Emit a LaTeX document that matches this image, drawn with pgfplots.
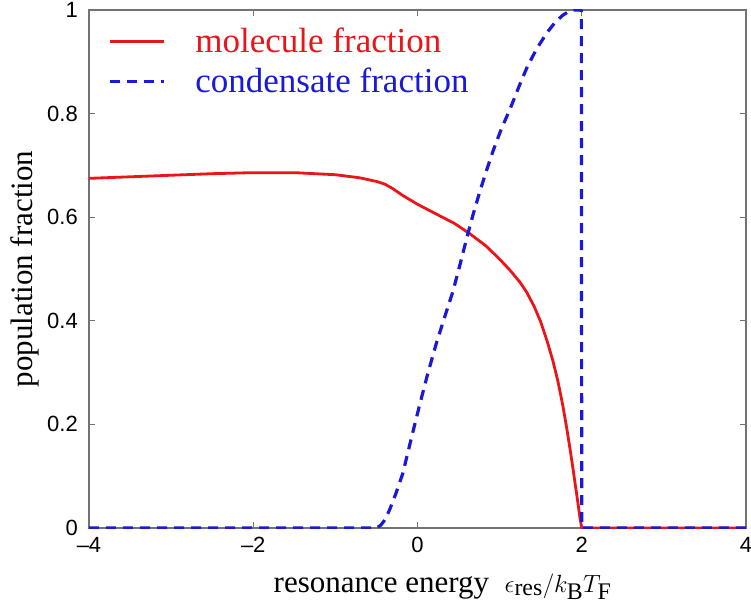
\documentclass[border=0pt]{standalone}
\usepackage{fontspec}
\setmainfont{Liberation Serif}
\newfontfamily\helv{Liberation Sans}
\usepackage{pgfplots}
\pgfplotsset{compat=1.18}
\definecolor{mred}{RGB}{235,20,25}
\definecolor{mblue}{RGB}{25,25,215}
\definecolor{frame}{RGB}{115,115,115}
\begin{document}
\begin{tikzpicture}
\begin{axis}[
  scale only axis,
  width=657pt, height=518pt,
  xmin=-4, xmax=4, ymin=0, ymax=1,
  xtick={-4,-2,0,2,4},
  xticklabels={\textendash4,\textendash2,0,2,4},
  ytick={0,0.2,0.4,0.6,0.8,1},
  yticklabels={0,0.2,0.4,0.6,0.8,1},
  axis line style={frame, line width=1.4pt},
  tick style={frame, line width=1.2pt},
  tick align=inside,
  major tick length=6pt,
  xtick pos=both, ytick pos=both,
  ticklabel style={font=\helv\fontsize{22}{26}\selectfont, inner sep=0pt},
  xticklabel style={anchor=north, yshift=-9pt},
  yticklabel style={anchor=east, xshift=-11pt},
  xlabel={resonance energy\ \ {\fontsize{34}{38}\selectfont$\epsilon_{\mathrm{res}}/k_{\mathrm{B}}T_{\mathrm{F}}$}},
  ylabel={population fraction},
  label style={font=\fontsize{31}{36}\selectfont},
  xlabel style={at={([xshift=25pt,yshift=-64pt]rel axis cs:0.5,0)}, anchor=base},
  ylabel style={at={([xshift=-56pt]rel axis cs:0,0.5)}, anchor=base, rotate=0},
  legend style={at={([xshift=19pt,yshift=-18pt]rel axis cs:0,1)}, anchor=north west,
    draw=none, fill=none, inner sep=0pt, column sep=30pt, row sep=14pt,
    font=\fontsize{35}{40}\selectfont, nodes={inner sep=0pt}},
  legend cell align=left,
  legend image code/.code={\draw[#1] (0pt,0pt) -- (54pt,0pt);},
]
\addplot[mred, line width=2.8pt, line join=round] coordinates {
(-4,0.675) (-3.5,0.678) (-3,0.681) (-2.5,0.684) (-2,0.686) (-1.5,0.686)
(-1,0.682) (-0.7,0.676) (-0.5,0.669) (-0.4,0.664) (-0.3,0.655) (-0.18,0.642)
(0,0.625) (0.23,0.606) (0.45,0.588) (0.63,0.569) (0.83,0.545) (1.0,0.519)
(1.13,0.497) (1.25,0.474) (1.33,0.455) (1.42,0.428) (1.5,0.398) (1.58,0.360)
(1.65,0.322) (1.71,0.283) (1.77,0.236) (1.82,0.190) (1.86,0.150) (1.89,0.118)
(1.92,0.085) (1.95,0.052) (1.98,0.018) (2.0,0.0) (4,0)
};
\addlegendentry{\textcolor{mred}{molecule fraction}}
\addplot[mblue, line width=3.2pt, dash pattern=on 10pt off 7pt, line join=round] coordinates {
(-4,0) (-0.50,0) (-0.45,0.005) (-0.40,0.015) (-0.34,0.035) (-0.26,0.068)
(-0.18,0.105) (-0.08,0.17) (0.02,0.234) (0.12,0.295) (0.23,0.357) (0.33,0.407)
(0.43,0.456) (0.52,0.51) (0.60,0.56) (0.68,0.607) (0.76,0.65) (0.84,0.69)
(0.92,0.728) (1.02,0.77) (1.13,0.81) (1.23,0.85) (1.33,0.888) (1.45,0.925)
(1.58,0.957) (1.68,0.977) (1.77,0.99) (1.85,0.998) (1.9,1.0) (1.995,1.0)
(2.0,0) (4,0)
};
\addlegendentry{\textcolor{mblue}{condensate fraction}}
\end{axis}
\pgfresetboundingbox
\path (current axis.south west) ++(-89pt,-75pt) coordinate (bbA);
\path (current axis.north east) ++(5pt,10pt) coordinate (bbB);
\useasboundingbox (bbA) rectangle (bbB);
\end{tikzpicture}
\end{document}
